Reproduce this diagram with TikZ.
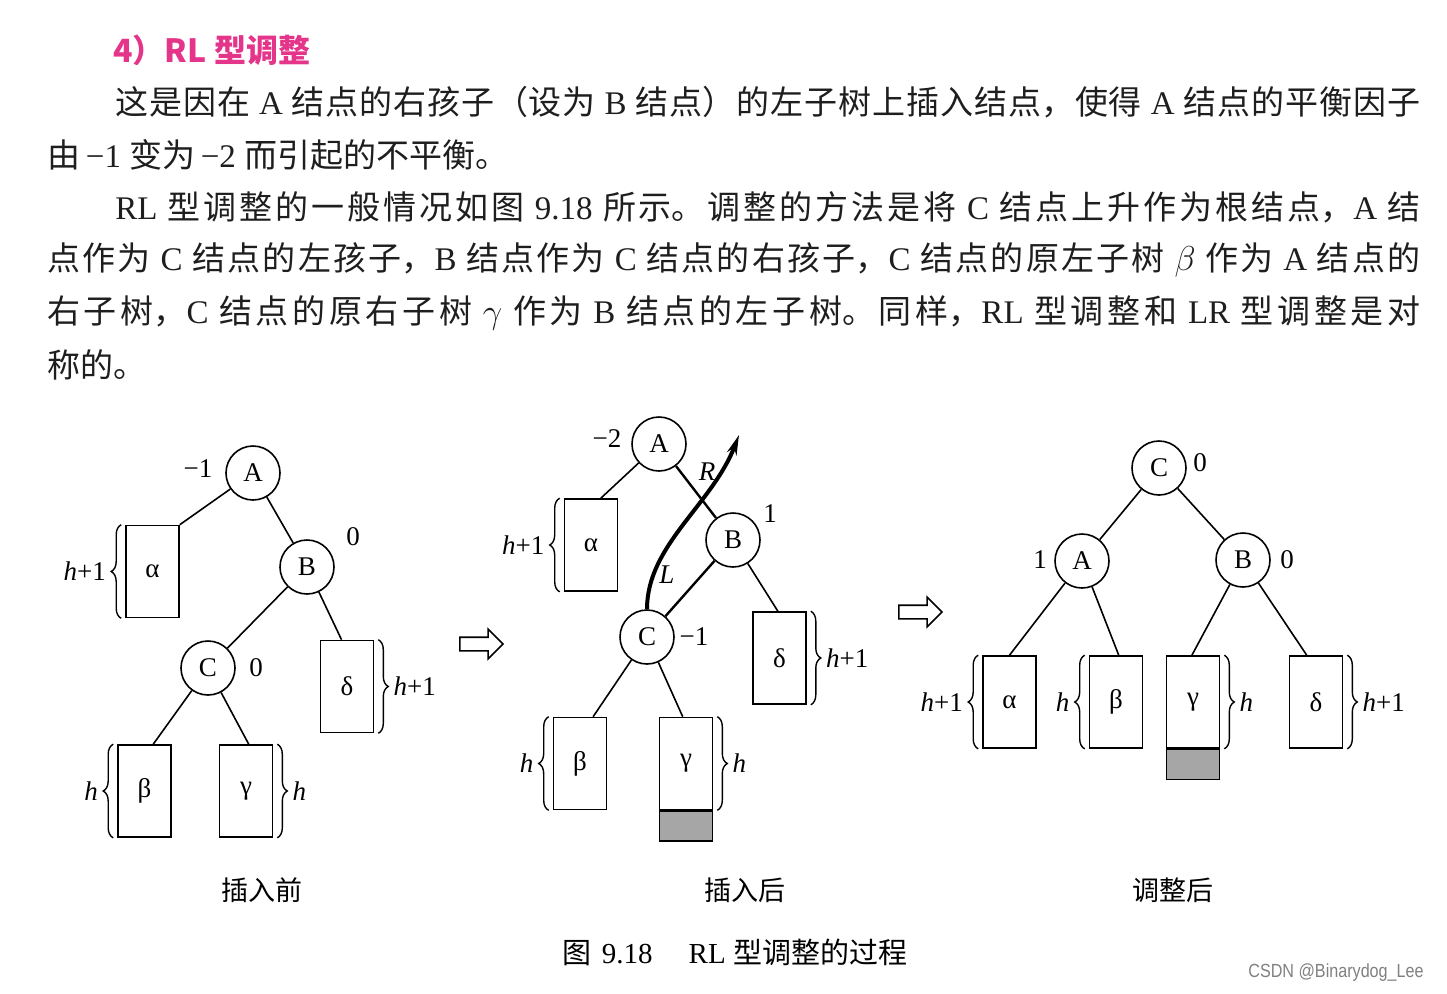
\documentclass[tikz,border=0pt]{standalone}
\usepackage{fontspec}
\setmainfont{Liberation Serif}
\newfontfamily\cjk{Noto Sans CJK SC}
\newfontfamily\marksf{Liberation Sans}[FakeStretch=0.85]
\usetikzlibrary{positioning, calc, shapes.arrows, arrows.meta, decorations.pathreplacing}
\definecolor{titlepink}{HTML}{E4358A}
\definecolor{ink}{HTML}{1E1E1E}
\XeTeXlinebreaklocale "zh"
\XeTeXlinebreakskip=0pt plus 3pt

\begin{document}
\begin{tikzpicture}[x=0.5pt, y=-0.5pt,
  vertex/.style={draw, circle, line width=0.8pt, minimum size=27pt, inner sep=0pt, font=\fontsize{13.5}{16}\selectfont},
  subtree/.style={draw, rectangle, line width=0.8pt, minimum width=26.5pt, minimum height=46pt, inner sep=0pt, font=\fontsize{13.5}{16}\selectfont},
  grayblk/.style={draw, fill=gray!70, line width=0.8pt, minimum width=26.5pt, minimum height=15pt, inner sep=0pt},
  bal/.style={font=\fontsize{13.5}{16}\selectfont},
  link/.style={line width=0.8pt},
  heavy/.style={line width=1.2pt},
  hbrace/.style={decorate, decoration={brace, amplitude=5pt}, line width=0.7pt},
  hollow/.style={draw, single arrow, line width=0.8pt, minimum height=21.5pt, minimum width=14pt, single arrow head extend=4pt, inner sep=3pt},
  sent/.style={anchor=west, inner sep=0pt, text=ink, font=\fontsize{16.5}{20}\selectfont},
  subcap/.style={font=\cjk\fontsize{13.5}{16}\selectfont}
]
  \useasboundingbox (0,0) rectangle (1447,993);

  % Heading and text
  \node[anchor=west, inner sep=0pt, text=titlepink, font=\cjk\bfseries\fontsize{16}{20}\selectfont] (title) at (113,50) {4）RL 型调整};
  \node[sent, text width=652.5pt, align=justify] (line1) at (115,102) {\parfillskip=0pt\tolerance=10000
    {\cjk 这是因在} A {\cjk 结点的右孩子（设为} B {\cjk 结点）的左子树上插入结点，使得} A {\cjk 结点的平衡因子}\par};
  \node[sent] (line2) at (47,155) {{\cjk 由}\,−1 {\cjk 变为}\,−2 {\cjk 而引起的不平衡。}};
  \node[sent, text width=652.5pt, align=justify] (line3) at (115,207) {\parfillskip=0pt\tolerance=10000
    RL {\cjk 型调整的一般情况如图} 9.18 {\cjk 所示。调整的方法是将} C {\cjk 结点上升作为根结点，}A {\cjk 结}\par};
  \node[sent, text width=686.5pt, align=justify] (line4) at (47,260) {\parfillskip=0pt\tolerance=10000
    {\cjk 点作为} C {\cjk 结点的左孩子，}B {\cjk 结点作为} C {\cjk 结点的右孩子，}C {\cjk 结点的原左子树} $\beta$ {\cjk 作为} A {\cjk 结点的}\par};
  \node[sent, text width=686.5pt, align=justify] (line5) at (47,313) {\parfillskip=0pt\tolerance=10000
    {\cjk 右子树，}C {\cjk 结点的原右子树} $\gamma$ {\cjk 作为} B {\cjk 结点的左子树。同样，}RL {\cjk 型调整和} LR {\cjk 型调整是对}\par};
  \node[sent] (line6) at (47,365) {{\cjk 称的。}};

  % Before insertion
  \node[vertex] (A1) at (253,473) {A};
  \node[vertex] (B1) at (307,567) {B};
  \node[vertex] (C1) at (208,668) {C};
  \node[subtree] (al1) at (152.5,571.5) {α};
  \node[subtree] (de1) at (347,686.5) {δ};
  \node[subtree] (be1) at (144.5,791) {β};
  \node[subtree] (ga1) at (246,791) {γ};
  \node[bal] (fA1) at (198,469) {−1};
  \node[bal] (fB1) at (353,537) {0};
  \node[bal] (fC1) at (256,668) {0};

  \draw[link] (A1) -- (al1.north east);
  \draw[link] (A1) -- (B1);
  \draw[link] (B1) -- (C1);
  \draw[link] (B1) -- ($(de1.north west)!0.4!(de1.north east)$);
  \draw[link] (C1) -- ($(be1.north west)!0.66!(be1.north east)$);
  \draw[link] (C1) -- ($(ga1.north west)!0.55!(ga1.north east)$);

  \draw[hbrace] ([xshift=-2pt]al1.south west) -- ([xshift=-2pt]al1.north west) node[midway, left=4pt, bal] (hal1) {\textit{h}+1};
  \draw[hbrace] ([xshift=-2pt]be1.south west) -- ([xshift=-2pt]be1.north west) node[midway, left=4pt, bal] (hbe1) {\textit{h}};
  \draw[hbrace] ([xshift=2pt]ga1.north east) -- ([xshift=2pt]ga1.south east) node[midway, right=4pt, bal] (hga1) {\textit{h}};
  \draw[hbrace] ([xshift=2pt]de1.north east) -- ([xshift=2pt]de1.south east) node[midway, right=4pt, bal] (hde1) {\textit{h}+1};

  \node[hollow] (go1) at (478,644) {};

  % After insertion
  \node[vertex] (A2) at (659,444) {A};
  \node[vertex] (B2) at (733,540) {B};
  \node[vertex] (C2) at (647,637) {C};
  \node[subtree] (al2) at (591,545) {α};
  \node[subtree] (de2) at (779.5,658) {δ};
  \node[subtree] (be2) at (580,763.5) {β};
  \node[subtree] (ga2) at (686,763.5) {γ};
  \node[grayblk, below=0pt of ga2] (sh2) {};
  \node[bal] (fA2) at (607,439) {−2};
  \node[bal] (fB2) at (770,514) {1};
  \node[bal] (fC2) at (694,637) {−1};
  \node[bal, font=\itshape\fontsize{13.5}{16}\selectfont] (rot1) at (707,472) {R};
  \node[bal, font=\itshape\fontsize{13.5}{16}\selectfont] (rot2) at (667,575) {L};

  \draw[link] (A2) -- ($(al2.north west)!0.68!(al2.north east)$);
  \draw[heavy] (A2) -- (B2);
  \draw[heavy] (B2) -- (C2);
  \draw[link] (B2) -- ($(de2.north west)!0.47!(de2.north east)$);
  \draw[link] (C2) -- ($(be2.north west)!0.74!(be2.north east)$);
  \draw[link] (C2) -- ($(ga2.north west)!0.44!(ga2.north east)$);

  \coordinate (tip) at (739,435);
  \draw[line width=2pt, -{Stealth[length=10pt, width=5pt]}] (C2.north) .. controls (647,545) and (712,505) .. (tip);

  \draw[hbrace] ([xshift=-2pt]al2.south west) -- ([xshift=-2pt]al2.north west) node[midway, left=4pt, bal] (hal2) {\textit{h}+1};
  \draw[hbrace] ([xshift=-2pt]be2.south west) -- ([xshift=-2pt]be2.north west) node[midway, left=4pt, bal] (hbe2) {\textit{h}};
  \draw[hbrace] ([xshift=2pt]ga2.north east) -- ([xshift=2pt]ga2.south east) node[midway, right=4pt, bal] (hga2) {\textit{h}};
  \draw[hbrace] ([xshift=2pt]de2.north east) -- ([xshift=2pt]de2.south east) node[midway, right=4pt, bal] (hde2) {\textit{h}+1};

  \node[hollow] (go2) at (917,612) {};

  % After adjustment
  \node[vertex] (C3) at (1159,468) {C};
  \node[vertex] (A3) at (1082,561) {A};
  \node[vertex] (B3) at (1243,560) {B};
  \node[subtree] (al3) at (1009.5,702) {α};
  \node[subtree] (be3) at (1116,702) {β};
  \node[subtree] (ga3) at (1193,702) {γ};
  \node[subtree] (de3) at (1316,702) {δ};
  \node[grayblk, below=0pt of ga3] (sh3) {};
  \node[bal] (fC3) at (1200,463) {0};
  \node[bal] (fA3) at (1040,560) {1};
  \node[bal] (fB3) at (1287,560) {0};

  \draw[link] (C3) -- (A3);
  \draw[link] (C3) -- (B3);
  \draw[link] (A3) -- (al3.north);
  \draw[link] (A3) -- ($(be3.north west)!0.55!(be3.north east)$);
  \draw[link] (B3) -- ($(ga3.north west)!0.48!(ga3.north east)$);
  \draw[link] (B3) -- ($(de3.north west)!0.33!(de3.north east)$);

  \draw[hbrace] ([xshift=-2pt]al3.south west) -- ([xshift=-2pt]al3.north west) node[midway, left=4pt, bal] (hal3) {\textit{h}+1};
  \draw[hbrace] ([xshift=-2pt]be3.south west) -- ([xshift=-2pt]be3.north west) node[midway, left=4pt, bal] (hbe3) {\textit{h}};
  \draw[hbrace] ([xshift=2pt]ga3.north east) -- ([xshift=2pt]ga3.south east) node[midway, right=4pt, bal] (hga3) {\textit{h}};
  \draw[hbrace] ([xshift=2pt]de3.north east) -- ([xshift=2pt]de3.south east) node[midway, right=4pt, bal] (hde3) {\textit{h}+1};

  % Captions
  \node[subcap] (cap1) at (262,890) {插入前};
  \node[subcap] (cap2) at (745,890) {插入后};
  \node[subcap] (cap3) at (1173,890) {调整后};
  \node[font=\fontsize{14.5}{16}\selectfont] (figcap) at (735,952) {{\cjk 图}\hspace{5pt}9.18\hspace{18pt}RL {\cjk 型调整的过程}};
  \node[text=gray, font=\marksf\fontsize{9.5}{11}\selectfont] (mark) at (1336,973) {CSDN @Binarydog\_Lee};
\end{tikzpicture}
\end{document}
